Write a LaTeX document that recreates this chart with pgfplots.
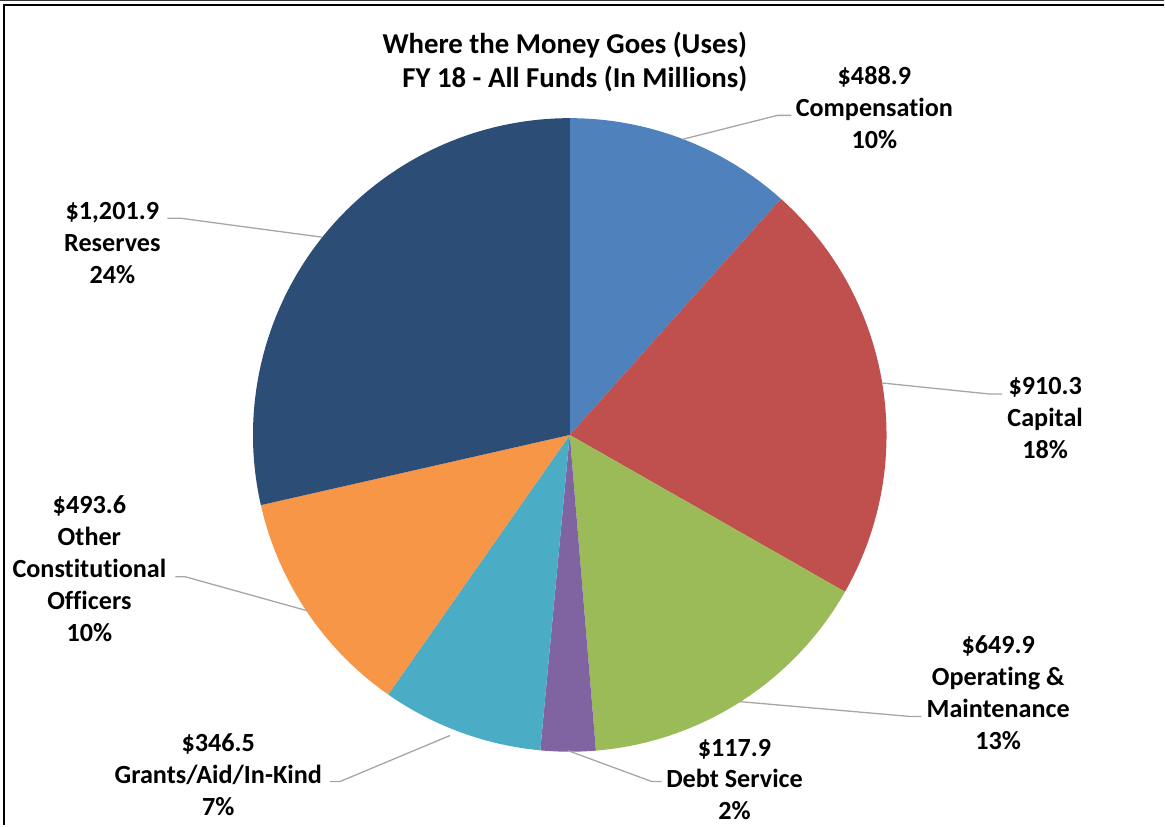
\documentclass[border=0pt]{standalone}
\usepackage{fontspec}
\setmainfont{Carlito}[Ligatures=NoCommon]
\usepackage{pgfplots}
\usepackage{pgfplotstable}
\pgfplotsset{compat=1.18}

\definecolor{slice0}{HTML}{4F81BD}
\definecolor{slice1}{HTML}{C0504D}
\definecolor{slice2}{HTML}{9BBB59}
\definecolor{slice3}{HTML}{8064A2}
\definecolor{slice4}{HTML}{4BACC6}
\definecolor{slice5}{HTML}{F79646}
\definecolor{slice6}{HTML}{2C4D75}
\definecolor{leader}{HTML}{A6A6A6}

% FY 18 uses, in millions, clockwise from 12 o'clock
\pgfplotstableread{
label value
Compensation 488.9
Capital 910.3
Operating 649.9
Debt 117.9
Grants 346.5
Other 493.6
Reserves 1201.9
}\piedata

% total and start/end angle of each slice
\xdef\pietotal{0}
\foreach \i in {0,...,6}{%
  \pgfplotstablegetelem{\i}{value}\of\piedata
  \pgfmathparse{\pietotal+\pgfplotsretval}\xdef\pietotal{\pgfmathresult}%
}
\xdef\cum{90}
\foreach \i in {0,...,6}{%
  \pgfplotstablegetelem{\i}{value}\of\piedata
  \pgfmathparse{\cum-(\pgfplotsretval/\pietotal)*360}%
  \expandafter\xdef\csname sa\i\endcsname{\cum}%
  \expandafter\xdef\csname ea\i\endcsname{\pgfmathresult}%
  \xdef\cum{\pgfmathresult}%
}

\tikzset{
  lbl/.style={align=center, inner sep=0pt, font=\bfseries\fontsize{7.45}{9.1}\selectfont},
  ttl/.style={lbl, font=\bfseries\fontsize{8.2}{9.8}\selectfont},
  lead/.style={draw=leader, line width=0.013cm},
}

\begin{document}
\begin{tikzpicture}
\begin{axis}[
    scale only axis,
    x=0.01cm, y=0.01cm,
    xmin=0, xmax=1165,
    ymin=0, ymax=827,
    y dir=reverse,
    hide axis,
    clip=false,
]
% pie slices (radius 317 px)
\pgfplotsinvokeforeach{0,...,6}{
  \fill[slice#1] (axis cs:570,436) -- ++(\csname sa#1\endcsname:3.17cm)
    arc[start angle=\csname sa#1\endcsname, end angle=\csname ea#1\endcsname, radius=3.17cm] -- cycle;
}

% frame
\draw[black!80, line width=0.01cm] (axis cs:0,1) -- (axis cs:1165,1);
\draw[black, line width=0.02cm] (axis cs:1165,6) -- (axis cs:4,6) -- (axis cs:4,827);

% title
\node[ttl] at (axis cs:565,46) {Where the Money Goes (Uses)};
\node[ttl] at (axis cs:575,80) {FY 18 - All Funds (In Millions)};

% leader lines
\draw[lead] (axis cs:683,140) -- (axis cs:778,116) -- (axis cs:792,116);
\draw[lead] (axis cs:322,238) -- (axis cs:180,219) -- (axis cs:167,219);
\draw[lead] (axis cs:883,384) -- (axis cs:990,395) -- (axis cs:1003,395);
\draw[lead] (axis cs:740,703) -- (axis cs:912,718) -- (axis cs:922,718);
\draw[lead] (axis cs:568,752) -- (axis cs:652,783) -- (axis cs:662,783);
\draw[lead] (axis cs:450,737) -- (axis cs:340,783) -- (axis cs:330,783);
\draw[lead] (axis cs:307,612) -- (axis cs:185,578) -- (axis cs:175,578);

% data labels
\node[lbl] at (axis cs:875,108) {\$488.9\\Compensation\\10\%};
\node[lbl] at (axis cs:1046,419) {\$910.3\\Capital\\18\%};
\node[lbl] at (axis cs:999,694) {\$649.9\\Operating \&\\Maintenance\\13\%};
\node[lbl] at (axis cs:735,781) {\$117.9\\Debt Service\\2\%};
\node[lbl] at (axis cs:218,776) {\$346.5\\Grants/Aid/In-Kind\\7\%};
\node[lbl] at (axis cs:89,570) {\$493.6\\Other\\Constitutional\\Officers\\10\%};
\node[lbl] at (axis cs:112,244) {\$1,201.9\\Reserves\\24\%};
\end{axis}
\end{tikzpicture}
\end{document}
